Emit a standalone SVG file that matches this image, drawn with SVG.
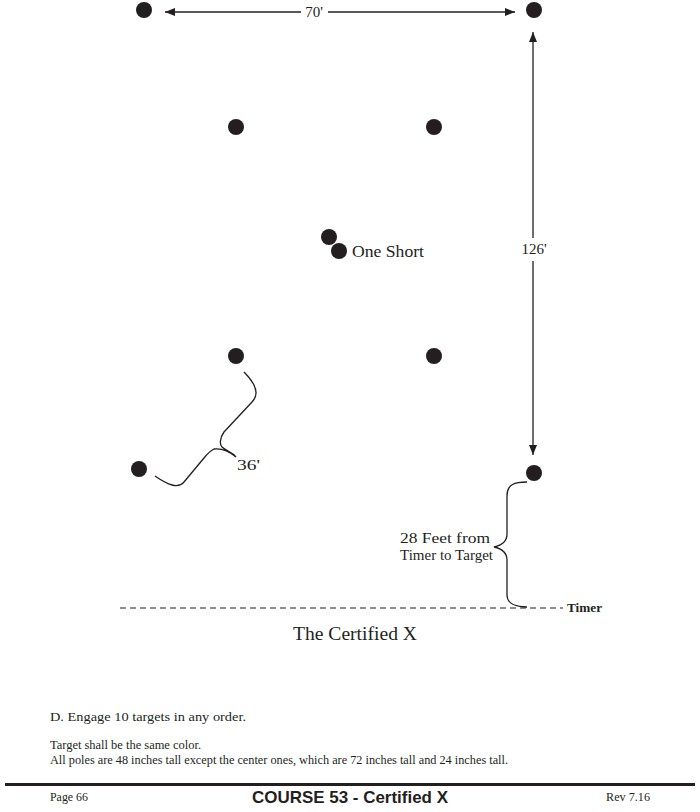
<svg xmlns="http://www.w3.org/2000/svg" width="700" height="812" viewBox="0 0 700 812">
<style>
.dot{fill:#231f20}
.ln{stroke:#231f20;stroke-width:1.3;fill:none}
.t{font-family:"Liberation Serif",serif;fill:#231f20}
</style>
<defs>
<marker id="ah" viewBox="0 0 10 10" refX="10" refY="5" markerWidth="10" markerHeight="10" markerUnits="userSpaceOnUse" orient="auto-start-reverse">
<path d="M0,1 L10,5 L0,9 Z" fill="#231f20"/>
</marker>
</defs>
<rect width="700" height="812" fill="#fff"/>
<g id="p1"><circle class="dot" cx="144" cy="10" r="8"/></g>
<g id="p2"><circle class="dot" cx="534" cy="10" r="8"/></g>
<g id="p3"><circle class="dot" cx="236" cy="127" r="8"/></g>
<g id="p4"><circle class="dot" cx="434" cy="127" r="8"/></g>
<g id="p5"><circle class="dot" cx="329" cy="237" r="8"/></g>
<g id="p6"><circle class="dot" cx="339" cy="251" r="8"/><text class="t" x="352" y="257" font-size="17" textLength="72" lengthAdjust="spacingAndGlyphs">One Short</text></g>
<g id="p7"><circle class="dot" cx="236" cy="356" r="8"/></g>
<g id="p8"><circle class="dot" cx="434" cy="356" r="8"/></g>
<g id="p9"><circle class="dot" cx="139" cy="469" r="8"/></g>
<g id="p10"><circle class="dot" cx="534" cy="473" r="8"/></g>
<g id="connectors">
<line class="ln" x1="301" y1="12" x2="165" y2="12" marker-end="url(#ah)"/>
<line class="ln" x1="328" y1="12" x2="515" y2="12" marker-end="url(#ah)"/>
<text class="t" x="314" y="17" font-size="15" text-anchor="middle">70'</text>
<line class="ln" x1="533" y1="238" x2="533" y2="32" marker-end="url(#ah)"/>
<line class="ln" x1="533" y1="261" x2="533" y2="455" marker-end="url(#ah)"/>
<text class="t" x="534" y="254" font-size="15" text-anchor="middle">126'</text>
<path class="ln" d="M244,372 C252,380 262,392 252,402 L224,432 C219,439 220,445 222,447 C226,451 232,452 236,457 C230,452 222,448 214,449 C210,451 208,453 204,458 L184,482 C178,489 168,485 155,476"/>
<text class="t" x="237" y="470" font-size="15" textLength="23" lengthAdjust="spacingAndGlyphs">36'</text>
<path class="ln" d="M527,482 C515,482 507,484 507,496 L507,534 C507,540 503,545 494,547 C503,549 507,554 507,560 L507,595 C507,603 515,607 527,607"/>
<text class="t" x="400" y="543" font-size="14" textLength="90" lengthAdjust="spacingAndGlyphs">28 Feet from</text>
<text class="t" x="400" y="560" font-size="14" textLength="93" lengthAdjust="spacingAndGlyphs">Timer to Target</text>
<line x1="120" y1="608" x2="563" y2="608" stroke="#231f20" stroke-width="1.2" stroke-dasharray="6,4"/>
<text class="t" x="567" y="612" font-size="13" font-weight="bold" textLength="35" lengthAdjust="spacingAndGlyphs">Timer</text>
</g>
<text class="t" x="293" y="640" font-size="18" textLength="124" lengthAdjust="spacingAndGlyphs">The Certified X</text>
<text class="t" x="50" y="721" font-size="12.5" textLength="196" lengthAdjust="spacingAndGlyphs">D. Engage 10 targets in any order.</text>
<text class="t" x="50" y="749" font-size="12.5" textLength="151" lengthAdjust="spacingAndGlyphs">Target shall be the same color.</text>
<text class="t" x="50" y="764" font-size="12.5" textLength="458" lengthAdjust="spacingAndGlyphs">All poles are 48 inches tall except the center ones, which are 72 inches tall and 24 inches tall.</text>
<rect x="5" y="783" width="690" height="3" fill="#231f20"/>
<text class="t" x="50" y="801" font-size="12.5" textLength="38" lengthAdjust="spacingAndGlyphs">Page 66</text>
<text x="350" y="803" font-size="17" font-weight="bold" font-family="'Liberation Sans',Arial,sans-serif" fill="#231f20" text-anchor="middle" textLength="196" lengthAdjust="spacingAndGlyphs">COURSE 53 - Certified X</text>
<text class="t" x="606" y="801" font-size="12.5" textLength="44" lengthAdjust="spacingAndGlyphs">Rev 7.16</text>
</svg>
